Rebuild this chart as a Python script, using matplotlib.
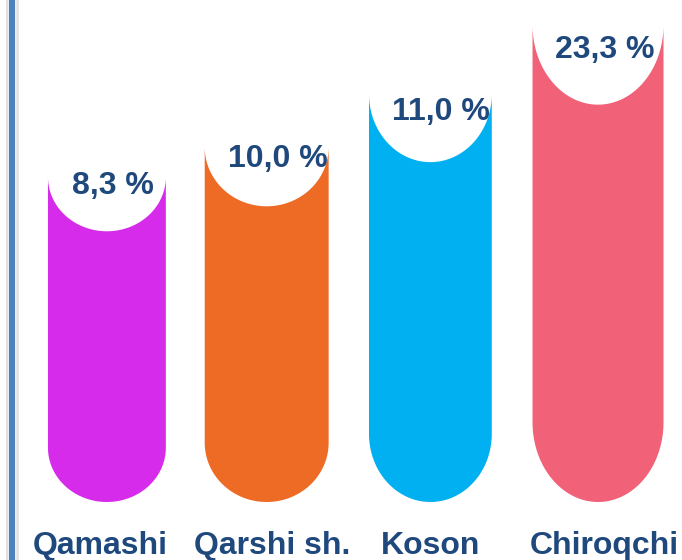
import numpy as np
import matplotlib
matplotlib.use("Agg")
import matplotlib.pyplot as plt
from matplotlib.patches import Polygon
from matplotlib.lines import Line2D

# ---- data ----
categories = ["Qamashi", "Qarshi sh.", "Koson", "Chiroqchi"]
values = [8.3, 10.0, 11.0, 23.3]            # shown percentages
bar_heights = [325, 355, 408, 477]          # drawn bar heights
value_labels = ["8,3 %", "10,0 %", "11,0 %", "23,3 %"]

# ---- style ----
colors = ["#D62BEA", "#EE6B26", "#00B0F0", "#F16178"]
bar_widths = [0.72, 0.757, 0.75, 0.80]
x_shift = [0.012, -0.012, -0.012, 0.012]    # small layout nudges
label_shift = [-0.04, 0.035, 0.0, 0.04]
value_shift = [0.035, 0.07, 0.065, 0.04]
text_color = "#1F497D"
font = "Liberation Sans"

fig = plt.figure(figsize=(6.82, 5.6), dpi=100)
ax = fig.add_axes([0, 0, 1, 1])
ax.set_xlim(-0.641, 3.525)
ax.set_ylim(-58, 502)
ax.axis("off")

t = np.linspace(0, np.pi, 100)
for i, (h, w, col) in enumerate(zip(bar_heights, bar_widths, colors)):
    a = w / 2
    ry = 0.167 * h
    c = i + x_shift[i]
    notch_x = c - a * np.cos(t)
    notch_y = h - ry * np.sin(t)
    bot_x = c + a * np.cos(t)
    bot_y = ry - ry * np.sin(t)
    xs = np.concatenate([[c - a], notch_x, [c + a], bot_x])
    ys = np.concatenate([[ry], notch_y, [ry], bot_y])
    ax.add_patch(Polygon(np.column_stack([xs, ys]), closed=True,
                         facecolor=col, edgecolor="none"))
    ax.text(c + value_shift[i], h - (0.11 * h - 19), value_labels[i],
            ha="center", va="baseline", fontsize=23, fontweight="bold",
            color=text_color, family=font)
    ax.text(c + label_shift[i], -52, categories[i], ha="center",
            va="baseline", fontsize=23, fontweight="bold",
            color=text_color, family=font)

# left border line with faint shadow
fig.add_artist(Line2D([6.5 / 682, 6.5 / 682], [0, 1], color="#D9D9D9",
                      lw=1.2, transform=fig.transFigure))
fig.add_artist(Line2D([17 / 682, 17 / 682], [0, 1], color="#E3E3E3",
                      lw=2.0, transform=fig.transFigure))
fig.add_artist(Line2D([12 / 682, 12 / 682], [0, 1], color="#4F81BD",
                      lw=4.5, transform=fig.transFigure))

fig.savefig("out.png", dpi=100)
